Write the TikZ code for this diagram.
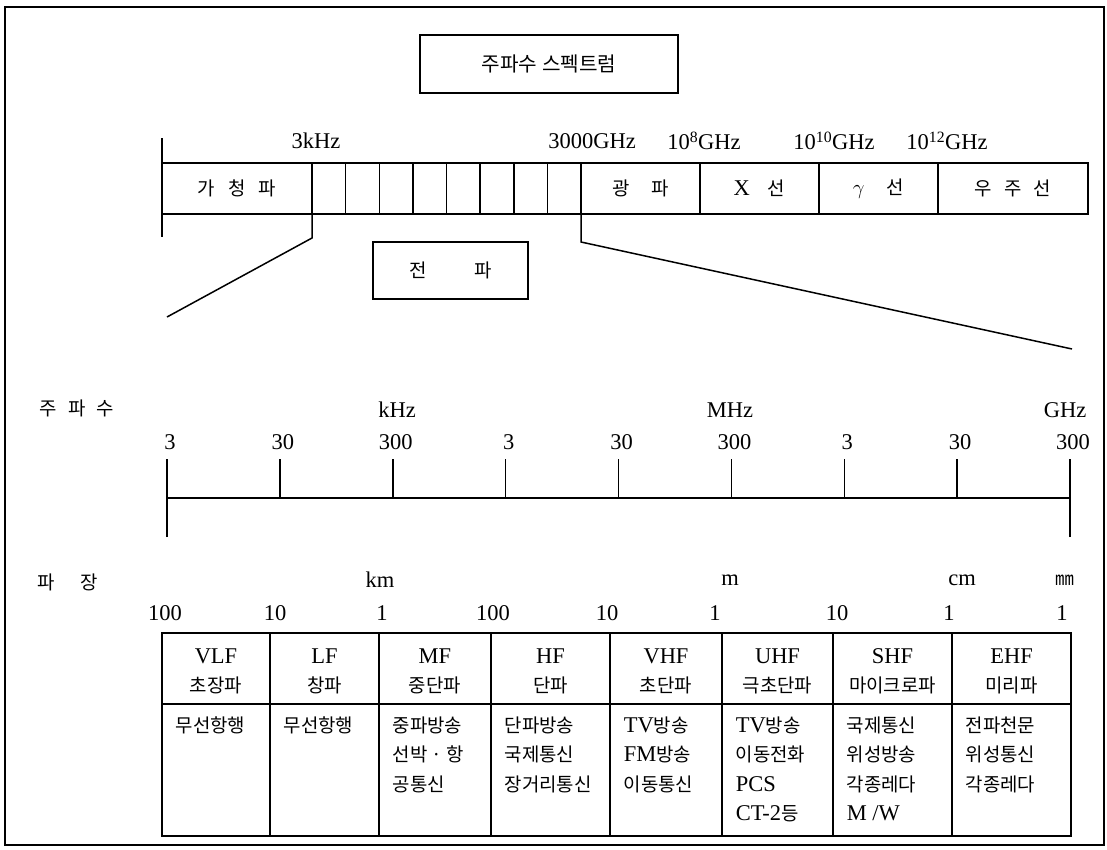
\documentclass[tikz,border=0pt]{standalone}
\usepackage{fontspec}
\setmainfont{Liberation Serif}
\newfontfamily\kr[Scale=0.84]{Noto Sans CJK KR}
\newcommand{\hk}[1]{{\kr #1}}
\newcommand{\gap}[1]{\hspace{#1pt}}
\usetikzlibrary{positioning}

\begin{document}
\begin{tikzpicture}[x=1pt,y=-1pt,line width=1.5pt,
    every node/.style={font=\fontsize{22.5}{29.5}\selectfont,inner sep=0pt},
    anchornode/.style={inner sep=0pt,outer sep=0pt,minimum size=0pt},
    cell/.style={draw,rectangle,outer sep=0pt,minimum height=51},
    hcell/.style={draw,rectangle,outer sep=0pt,minimum height=71},
    bcell/.style={draw,rectangle,outer sep=0pt,minimum height=132},
    htext/.style={align=center},
    btext/.style={align=left,anchor=north west}]

  \useasboundingbox (0,0) rectangle (1107,849);
  \draw[line width=1.8pt] (5,7) rectangle (1104,845);

  \node[draw,minimum width=258,minimum height=58,font=\fontsize{24}{27}\selectfont] (title) at (549,64)
    {\hk{주파수\gap{5}스펙트럼}};

  % spectrum bar
  \node[anchornode] (c0) at (162,188.5) {};
  \foreach \w/\t [count=\k] in {150/{\hk{가\gap{13}청\gap{13}파}},
      33.625/{},33.625/{},33.625/{},33.625/{},33.625/{},33.625/{},33.625/{},33.625/{},
      119/{\hk{광\gap{22}파}},119/{X\gap{18}\hk{선}},119/{$\gamma$\gap{22}\hk{선}},
      150/{\hk{우\gap{12}주\gap{12}선}}} {
    \pgfmathtruncatemacro\j{\k-1}
    \node[cell,minimum width=\w,right=0pt of c\j] (c\k) {\t};
  }
  \draw ([yshift=25pt]c1.north west) -- ([yshift=-23pt]c1.south west);

  \node (f3k) at (316,141) {3kHz};
  \node (f3t) at (592,141) {3000GHz};
  \node (f8) at (704,141) {10\textsuperscript{8}GHz};
  \node (f10) at (834,141) {10\textsuperscript{10}GHz};
  \node (f12) at (947,141) {10\textsuperscript{12}GHz};

  \node[draw,minimum width=155,minimum height=57] (jeonpa) at (450.5,270.5) {\hk{전\gap{48}파}};

  \coordinate (zl) at (167,317);
  \coordinate (zr) at (1072,349);
  \draw (c1.south east) -- ++(0,24) -- (zl);
  \draw (c10.south west) -- ++(0,28) -- (zr);

  % frequency axis
  \node (fq) at (77,408) {\hk{주\gap{11}파\gap{11}수}};
  \foreach \t [count=\n from 0] in {3,30,300,3,30,300,3,30,300} {
    \coordinate (t\n) at ({167+112.875*\n},498);
    \draw (t\n) -- ++(0,-39);
    \node (n\n) at ([shift={(3,-56)}]t\n) {\t};
  }
  \draw (t0) -- (t8);
  \draw ([yshift=-39pt]t0) -- (t0);
  \draw ([yshift=-39pt]t8) -- (t8);
  \node (khz) at (397,410) {kHz};
  \node (mhz) at (730,410) {MHz};
  \node (ghz) at (1065,410) {GHz};

  % wavelength
  \node (wl) at (68,582) {\hk{파\gap{26}장}};
  \foreach \x/\t [count=\n] in {165/100,275/10,382/1,493/100,607/10,715/1,837/10,949/1,1062/1}
    \node (w\n) at (\x,613) {\t};
  \node (km) at (380,580) {km};
  \node (m) at (730,580) {m};
  \node (cm) at (962,580) {cm};
  \node (mm) at (1065,580) {\hk{㎜}};

  % bands
  \node[anchornode] (h0) at (162,668.5) {};
  \foreach \w/\hd/\bd [count=\k] in {
      108/{VLF\\\hk{초장파}}/{\hk{무선항행}},
      109/{LF\\\hk{창파}}/{\hk{무선항행}},
      112/{MF\\\hk{중단파}}/{\hk{중파방송}\\\hk{선박 · 항}\\\hk{공통신}},
      119/{HF\\\hk{단파}}/{\hk{단파방송}\\\hk{국제통신}\\\hk{장거리통신}},
      112/{VHF\\\hk{초단파}}/{TV\hk{방송}\\FM\hk{방송}\\\hk{이동통신}},
      111/{UHF\\\hk{극초단파}}/{TV\hk{방송}\\\hk{이동전화}\\PCS\\CT-2\hk{등}},
      119/{SHF\\\hk{마이크로파}}/{\hk{국제통신}\\\hk{위성방송}\\\hk{각종레다}\\M /W},
      119/{EHF\\\hk{미리파}}/{\hk{전파천문}\\\hk{위성통신}\\\hk{각종레다}}} {
    \pgfmathtruncatemacro\j{\k-1}
    \node[hcell,minimum width=\w,right=0pt of h\j] (h\k) {};
    \node[htext] (l\k) at ([yshift=-3pt]h\k.center) {\hd};
    \node[bcell,minimum width=\w,below=0pt of h\k] (b\k) {};
    \node[btext] (u\k) at ([shift={(13,12)}]b\k.north west) {\bd};
  }
\end{tikzpicture}
\end{document}
